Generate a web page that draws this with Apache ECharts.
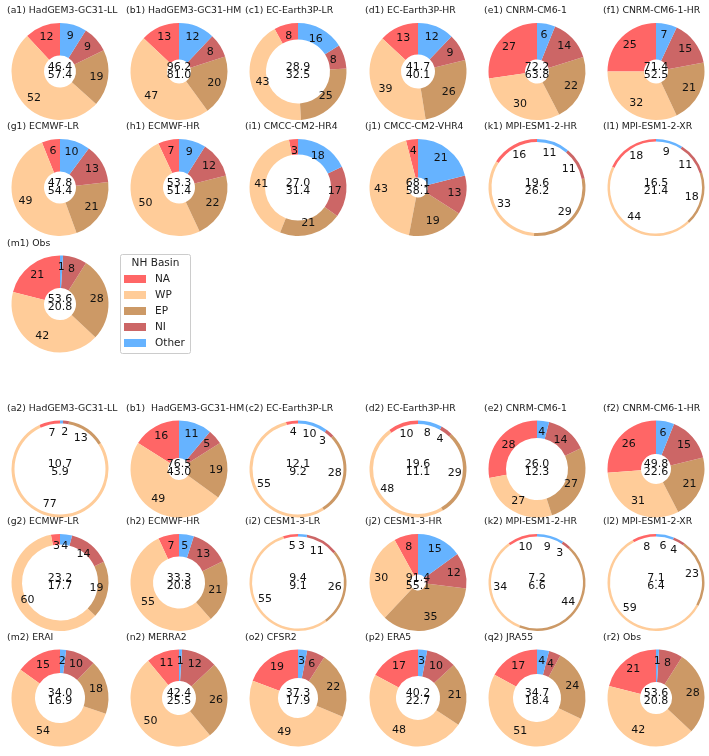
<!DOCTYPE html>
<html><head><meta charset="utf-8">
<script src="https://cdn.jsdelivr.net/npm/echarts@6/dist/echarts.min.js"></script>
<style>html,body{margin:0;padding:0;background:#fff}#c{width:709px;height:756px}</style>
</head><body><div id="c"></div>
<script>
// ---------- DATA ----------
const basins = ['NA', 'WP', 'EP', 'NI', 'Other'];

// Upper panel
const topTitles = ['(a1) HadGEM3-GC31-LL', '(b1) HadGEM3-GC31-HM', '(c1) EC-Earth3P-LR', '(d1) EC-Earth3P-HR',
  '(e1) CNRM-CM6-1', '(f1) CNRM-CM6-1-HR', '(g1) ECMWF-LR', '(h1) ECMWF-HR', '(i1) CMCC-CM2-HR4',
  '(j1) CMCC-CM2-VHR4', '(k1) MPI-ESM1-2-HR', '(l1) MPI-ESM1-2-XR', '(m1) Obs'];
const topNA    = [12, 13, 8, 13, 27, 25, 6, 7, 3, 4, 16, 18, 21];
const topWP    = [52, 47, 43, 39, 30, 32, 49, 50, 41, 43, 33, 44, 42];
const topEP    = [19, 20, 25, 26, 22, 21, 21, 22, 21, 19, 29, 18, 28];
const topNI    = [9, 8, 8, 9, 14, 15, 13, 12, 17, 13, 11, 11, 8];
const topOther = [9, 12, 16, 12, 6, 7, 10, 9, 18, 21, 11, 9, 1];
const topV1 = ['46.4', '96.2', '28.9', '41.7', '72.2', '71.4', '47.8', '53.3', '27.0', '68.1', '19.6', '16.5', '53.6'];
const topV2 = ['57.4', '81.0', '32.5', '40.1', '63.8', '52.5', '54.4', '51.4', '31.4', '58.1', '26.2', '21.4', '20.8'];

// Lower panel
const botTitles = ['(a2) HadGEM3-GC31-LL', '(b1)  HadGEM3-GC31-HM', '(c2) EC-Earth3P-LR', '(d2) EC-Earth3P-HR',
  '(e2) CNRM-CM6-1', '(f2) CNRM-CM6-1-HR', '(g2) ECMWF-LR', '(h2) ECMWF-HR', '(i2) CESM1-3-LR',
  '(j2) CESM1-3-HR', '(k2) MPI-ESM1-2-HR', '(l2) MPI-ESM1-2-XR', '(m2) ERAI', '(n2) MERRA2',
  '(o2) CFSR2', '(p2) ERA5', '(q2) JRA55', '(r2) Obs'];
const botNA    = [7, 16, 4, 10, 28, 26, 3, 7, 5, 8, 10, 8, 15, 11, 19, 17, 17, 21];
const botWP    = [77, 49, 55, 48, 27, 31, 60, 55, 55, 30, 34, 59, 54, 50, 49, 48, 51, 42];
const botEP    = [13, 19, 28, 29, 27, 21, 19, 21, 26, 35, 44, 23, 18, 26, 22, 21, 24, 28];
const botNI    = [2, 5, 3, 4, 14, 15, 14, 13, 11, 12, 3, 4, 10, 12, 6, 10, 4, 8];
const botOther = [1, 11, 10, 8, 4, 6, 4, 5, 3, 15, 9, 6, 2, 1, 3, 3, 4, 1];
const botV1 = ['10.7', '76.5', '12.1', '19.6', '26.0', '49.8', '23.2', '33.3', '9.4', '91.4', '7.2', '7.1', '34.0', '42.4', '37.3', '40.2', '34.7', '53.6'];
const botV2 = ['5.9', '43.0', '9.2', '11.1', '12.3', '22.6', '17.7', '20.8', '9.1', '55.1', '6.6', '6.4', '16.9', '25.5', '17.9', '22.7', '18.4', '20.8'];

// ---------- STYLE / LAYOUT ----------
const colors = ['#ff6666', '#ffcc99', '#cc9966', '#cc6666', '#66b3ff'];
const R = 48.5;
const topHole = [16, 12, 32, 17, 12, 12, 16, 16, 33, 10, 45.5, 46, 16];
const botHole = [45.5, 11, 45.5, 45, 31, 15, 38, 26, 46, 8, 46, 46, 25, 17, 20, 22, 24, 16];
const colX = [60, 179, 298, 418, 537, 656];
const topRowY = [71.5, 187.5, 304];
const botRowY = [469, 582.5, 698];
const FONT = 'DejaVu Sans';

const series = [];
const graphics = [];

function addPanel(titles, arrs, v1, v2, holes, rowY) {
  titles.forEach((t, i) => {
    const col = i % 6, row = Math.floor(i / 6);
    const cx = colX[col], cy = rowY[row];
    const ringData = basins.map((b, k) => ({ name: b, value: arrs[k][i], itemStyle: { color: colors[k] } }));
    const labData = basins.map((b, k) => ({ name: b, value: arrs[k][i] }));
    series.push({
      type: 'pie', center: [cx, cy], radius: [holes[i], R], startAngle: 90, clockwise: false,
      silent: true, animation: false, label: { show: false }, labelLine: { show: false },
      itemStyle: { borderWidth: 0 }, data: ringData, z: 2
    });
    series.push({
      type: 'pie', center: [cx, cy], radius: [R * 0.65, R * 0.75], startAngle: 90, clockwise: false,
      silent: true, animation: false, avoidLabelOverlap: false, legendHoverLink: false,
      itemStyle: { color: 'rgba(0,0,0,0)' },
      label: { show: true, position: 'inside', formatter: '{c}', color: '#111', fontSize: 11, fontFamily: FONT },
      labelLine: { show: false }, data: labData, z: 3
    });
    graphics.push({ type: 'text', x: cx - 53, y: cy - 60.5, z: 10,
      style: { text: t, fontSize: 9.3, fontFamily: FONT, fill: '#1a1a1a', textAlign: 'left', textVerticalAlign: 'middle' } });
    graphics.push({ type: 'text', x: cx, y: cy - 4.5, z: 10,
      style: { text: v1[i], fontSize: 11, fontFamily: FONT, fill: '#111', textAlign: 'center', textVerticalAlign: 'middle' } });
    graphics.push({ type: 'text', x: cx, y: cy + 3.5, z: 11,
      style: { text: v2[i], fontSize: 11, fontFamily: FONT, fill: '#111', textAlign: 'center', textVerticalAlign: 'middle' } });
  });
}

addPanel(topTitles, [topNA, topWP, topEP, topNI, topOther], topV1, topV2, topHole, topRowY);
addPanel(botTitles, [botNA, botWP, botEP, botNI, botOther], botV1, botV2, botHole, botRowY);

// Legend box (NH Basin)
graphics.push({ type: 'rect', shape: { x: 120.5, y: 254.5, width: 70, height: 99, r: 2 }, z: 5,
  style: { fill: '#fff', stroke: '#cccccc', lineWidth: 1 } });
graphics.push({ type: 'text', x: 155.5, y: 263.5, z: 6,
  style: { text: 'NH Basin', fontSize: 10.5, fontFamily: FONT, fill: '#222', textAlign: 'center', textVerticalAlign: 'middle' } });
basins.forEach((b, k) => {
  const y = 279 + k * 16;
  graphics.push({ type: 'rect', shape: { x: 124, y: y - 4, width: 22, height: 8 }, z: 6, style: { fill: colors[k] } });
  graphics.push({ type: 'text', x: 155, y: y, z: 6,
    style: { text: b, fontSize: 10.5, fontFamily: FONT, fill: '#222', textAlign: 'left', textVerticalAlign: 'middle' } });
});

const chart = echarts.init(document.getElementById('c'), null, { renderer: 'canvas' });
chart.setOption({ animation: false, backgroundColor: '#fff', series, graphic: graphics });
</script></body></html>
